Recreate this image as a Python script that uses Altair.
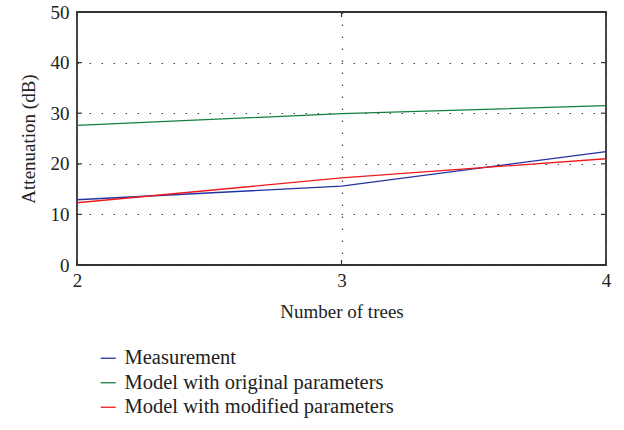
import altair as alt
import pandas as pd

trees = [2, 3, 4]
measurement = [12.9, 15.6, 22.4]
model_original = [27.6, 29.9, 31.5]
model_modified = [12.3, 17.2, 21.0]
series_names = ["Measurement", "Model with original parameters", "Model with modified parameters"]
series_colors = ["#2233a0", "#138040", "#f01a1e"]
x_ticks = [2, 3, 4]
y_ticks = [0, 10, 20, 30, 40, 50]

rows = []
for name, vals in zip(series_names, [measurement, model_original, model_modified]):
    for t, v in zip(trees, vals):
        rows.append({"trees": t, "att": v, "series": name})
df = pd.DataFrame(rows)

W, H = 529, 253
FONT = "Liberation Serif"

x = alt.X("trees:Q", scale=alt.Scale(domain=[2, 4], nice=False),
          axis=alt.Axis(values=x_ticks, tickCount=3, title="Number of trees", format=".0f",
                        grid=True, gridDash=[1.5, 10.5], gridColor="#444", gridWidth=1.2,
                        tickSize=0, labelPadding=6, titlePadding=12,
                        labelFlush=False, labelOverlap=False, domain=False))
y = alt.Y("att:Q", scale=alt.Scale(domain=[0, 50], nice=False),
          axis=alt.Axis(values=y_ticks, tickCount=6, title="Attenuation (dB)", format=".0f",
                        grid=True, gridDash=[1.5, 10.5], gridColor="#444", gridWidth=1.2,
                        tickSize=0, labelPadding=8, titlePadding=12,
                        labelFlush=False, labelOverlap=False, domain=False))

lines = alt.Chart(df).mark_line(strokeWidth=1.3).encode(
    x=x, y=y,
    color=alt.Color("series:N", sort=series_names,
                    scale=alt.Scale(domain=series_names, range=series_colors),
                    legend=alt.Legend(title=None, orient="none", legendX=21, legendY=336,
                                      symbolType="stroke", symbolSize=225, symbolStrokeWidth=1.3,
                                      labelFont=FONT, labelFontSize=20.5, labelColor="#222",
                                      labelOffset=6, rowPadding=3.5, labelLimit=500)),
)

ydf = pd.DataFrame({"v": y_ticks})
xdf = pd.DataFrame({"v": x_ticks})
ys = alt.Scale(domain=[0, 50], nice=False)
xs = alt.Scale(domain=[2, 4], nice=False)
tick_style = dict(color="#333", strokeWidth=1.2)
yl = alt.Chart(ydf).mark_rule(**tick_style).encode(y=alt.Y("v:Q", scale=ys, axis=None), x=alt.value(0), x2=alt.value(5))
yr = alt.Chart(ydf).mark_rule(**tick_style).encode(y=alt.Y("v:Q", scale=ys, axis=None), x=alt.value(W - 5), x2=alt.value(W))
xb = alt.Chart(xdf).mark_rule(**tick_style).encode(x=alt.X("v:Q", scale=xs, axis=None), y=alt.value(H - 5), y2=alt.value(H))
xt = alt.Chart(xdf).mark_rule(**tick_style).encode(x=alt.X("v:Q", scale=xs, axis=None), y=alt.value(0), y2=alt.value(5))

chart = alt.layer(lines, yl, yr, xb, xt).resolve_axis(
    x="independent", y="independent"
).properties(
    width=W, height=H,
    background="white",
    autosize=alt.AutoSizeParams(type="none"),
    padding={"left": 77, "top": 12, "right": 18, "bottom": 165},
).configure_view(stroke="#333", strokeWidth=1.8).configure_axis(
    labelFont=FONT, labelFontSize=19, labelColor="#222",
    titleFont=FONT, titleFontSize=19, titleColor="#222", titleFontWeight="normal",
)

chart.save("out.html", embed_options={"renderer": "svg", "actions": False})
